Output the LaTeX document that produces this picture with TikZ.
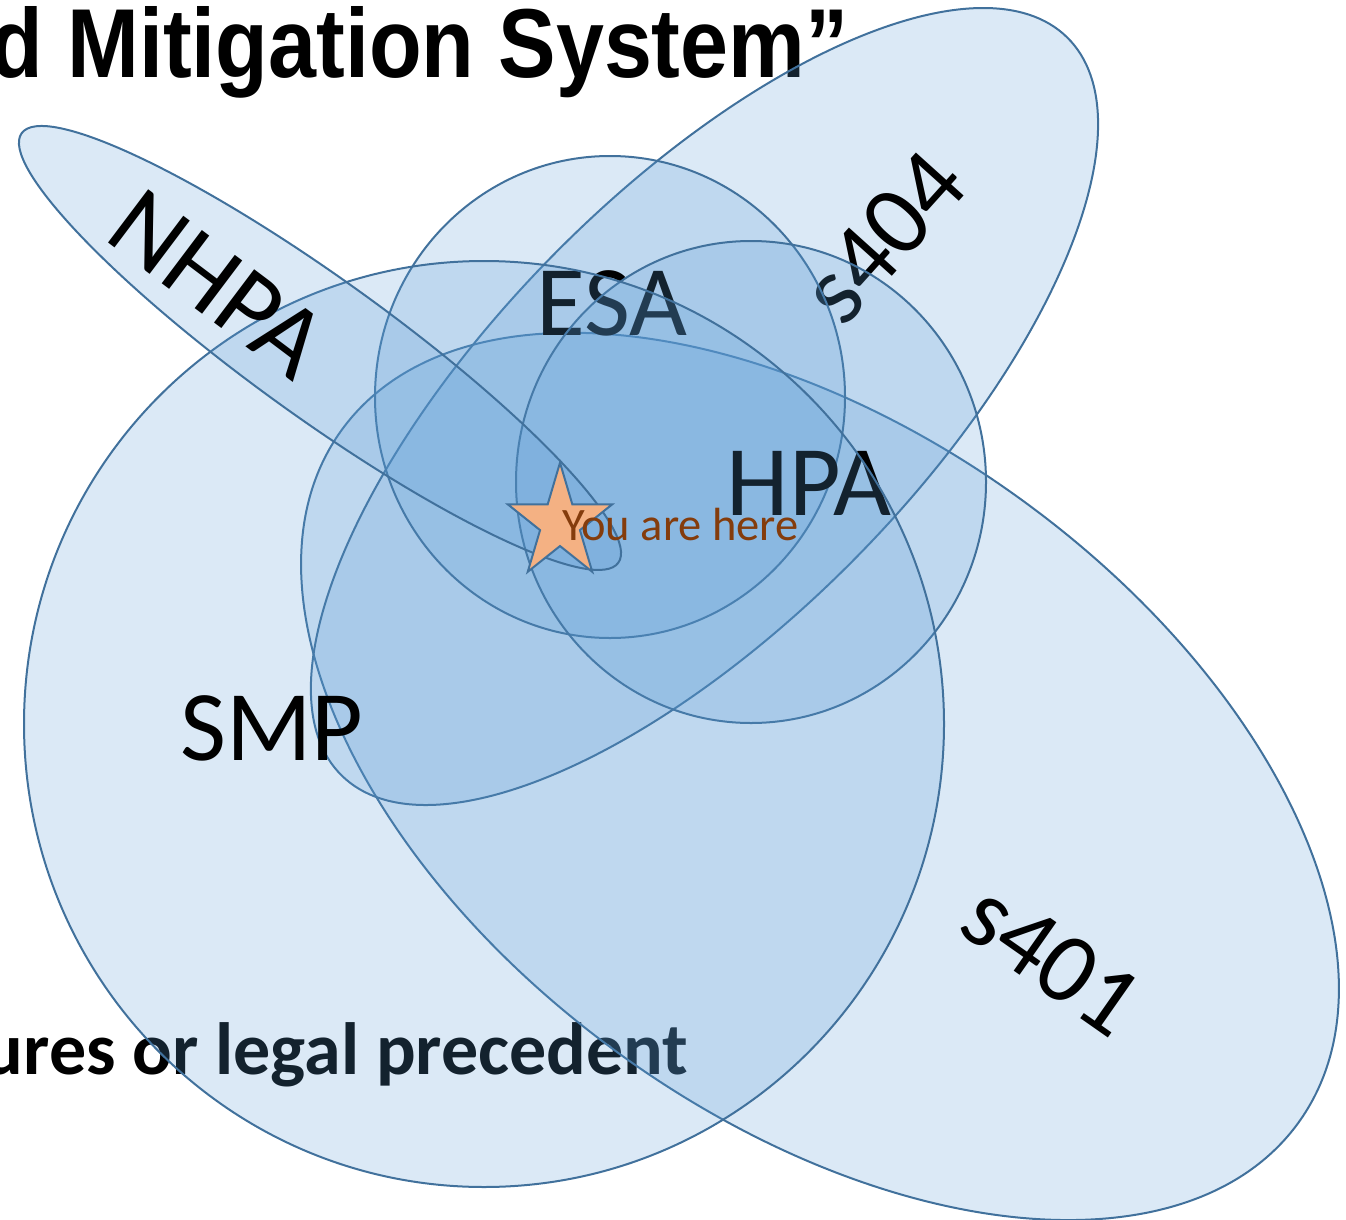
\documentclass[tikz,border=0pt]{standalone}
\usepackage{fontspec}
\setmainfont{Carlito}
\newfontfamily\titlefont[FakeStretch=0.88]{Liberation Sans}
\usetikzlibrary{shapes.geometric}

\definecolor{shade}{HTML}{5B9BD5}
\definecolor{edge}{HTML}{41719C}
\definecolor{starfill}{HTML}{F4B183}
\definecolor{heretext}{HTML}{843C0C}

\begin{document}
\begin{tikzpicture}[x=1pt,y=-1pt]
    \tikzstyle{region}=[draw=edge,line width=2pt,fill=shade,fill opacity=0.22]
    \tikzstyle{tag}=[font=\fontsize{100}{110}\selectfont,inner sep=0pt]
    \useasboundingbox (0,0) rectangle (1346,1220);

    \node (title) at (852,78) [anchor=base east,font=\titlefont\bfseries\fontsize{98}{100}\selectfont] {d Mitigation System”};
    \node (note) at (692,1074) [anchor=base east,font=\bfseries\fontsize{74}{80}\selectfont] {ures or legal precedent};

    \coordinate (s401c) at (820,776.5);
    \filldraw [region,rotate around={-35.9:(s401c)}] (s401c) ellipse [x radius=590.6pt,y radius=342.3pt];
    \node (s401) at (1052,959) [tag,rotate=-35] {s401};

    \coordinate (s404c) at (704.5,406.5);
    \filldraw [region,rotate around={45.5:(s404c)}] (s404c) ellipse [x radius=517.5pt,y radius=214pt];
    \node (s404) at (884,237) [tag,rotate=48] {s404};

    \coordinate (esac) at (610,397);
    \filldraw [region] (esac) ellipse [x radius=235pt,y radius=241pt];
    \node (esa) at (612,335) [tag,anchor=base] {ESA};

    \coordinate (hpac) at (751,482);
    \filldraw [region] (hpac) ellipse [x radius=235pt,y radius=241pt];
    \node (hpa) at (809,515) [tag,anchor=base] {HPA};

    \coordinate (smpc) at (484,724);
    \filldraw [region] (smpc) ellipse [x radius=460pt,y radius=463pt];
    \node (smp) at (272,760) [tag,anchor=base] {SMP};

    \coordinate (nhpac) at (320,348);
    \filldraw [region,rotate around={-35.75:(nhpac)}] (nhpac) ellipse [x radius=367.6pt,y radius=69pt];
    \node (nhpa) at (218,284) [tag,rotate=-37,font=\fontsize{104}{110}\selectfont] {NHPA};

    % marker
    \begin{scope}[shift={(560,523)},xscale=0.91]
        \node (star) at (0,0) [star,star points=5,star point ratio=2.618,minimum size=120.6pt,inner sep=0pt,
            draw=edge,line width=2pt,fill=starfill,transform shape] {};
    \end{scope}
    \node (here) at (562,540) [anchor=base west,text=heretext,font=\fontsize{46.5}{50}\selectfont,inner sep=0pt] {You are here};
\end{tikzpicture}
\end{document}
